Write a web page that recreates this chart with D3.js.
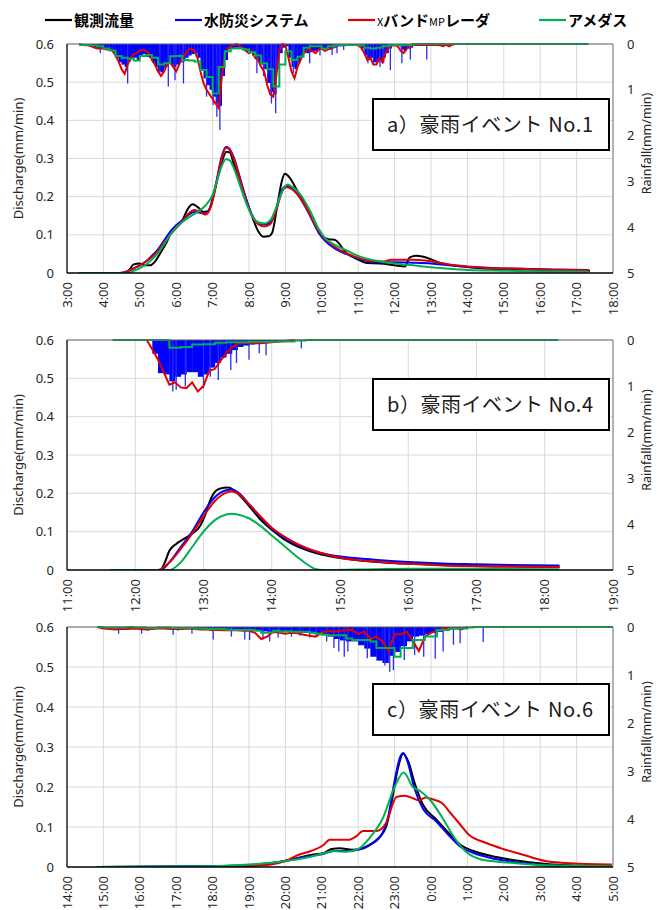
<!DOCTYPE html>
<html><head><meta charset="utf-8">
<script src="https://cdn.jsdelivr.net/npm/d3@7"></script>
<style>
body{margin:0;background:#fff}
svg text{font-family:"Noto Sans","Noto Sans CJK JP",sans-serif;fill:#262626}
</style></head><body>
<svg id="chart" width="657" height="910"></svg>
<script>
// legend
var seriesNames = ["観測流量","水防災システム","XバンドMPレーダ","アメダス"];
var seriesColors = ["#000000","#0000ff","#e00000","#00b050"];
var labels = ["a）豪雨イベント No.1","b）豪雨イベント No.4","c）豪雨イベント No.6"];
var qTicks = [0,0.1,0.2,0.3,0.4,0.5,0.6];
var rainTicks = [0,1,2,3,4,5];

// ---- event a : rain (mm/min) ----
var blueStartA = "3:20", blueStepA = 5;
var blueRainA = [0.02,0.03,0.03,0.05,0.06,0.08,0.1,0.1,0.12,0.12,0.15,0.18,0.3,0.4,0.45,0.5,0.38,0.3,0.3,0.35,
0.25,0.22,0.28,0.3,0.4,0.5,0.6,0.62,0.5,0.42,0.45,0.5,0.45,0.4,0.38,0.3,0.25,0.22,0.2,0.3,
0.55,0.75,0.9,1.0,1.15,1.3,1.35,0.7,0.35,0.12,0.1,0.08,0.08,0.1,0.1,0.15,0.2,0.25,0.3,0.4,
0.45,0.55,0.85,1.05,1.1,0.55,0.2,0.08,0.05,0.3,0.5,0.55,0.4,0.25,0.2,0.2,0.18,0.15,0.15,0.12,
0.1,0.1,0.12,0.1,0.08,0.05,0.05,0.04,0.03,0.02,0.02,0.02,0.04,0.1,0.25,0.35,0.3,0.4,0.4,0.35,
0.3,0.2,0.1,0.05,0.03,0.05,0.12,0.15,0.1,0.08,0.03,0.02,0.02,0.02,0.03,0.02,0];
var spikesA = [["3:55",0.2],["4:40",0.86],["5:33",0.64],["5:47",0.93],["5:58",0.79],["6:12",0.86],["6:50",1.15],
["7:01",1.33],["7:07",1.59],["7:12",1.88],["8:13",0.64],["8:24",0.7],["8:37",1.3],["8:44",1.51],["9:13",0.64],
["9:40",0.42],["9:57",0.25],["10:17",0.24],["10:25",0.2],["10:36",0.13],["11:16",0.42],["11:25",0.45],
["11:36",0.5],["11:42",0.42],["11:53",0.57],["12:12",0.42],["12:26",0.34],["12:53",0.34]];
var redStartA = "3:20", redStepA = 5;
var xbandRainA = [0,0.02,0.03,0.03,0.05,0.08,0.1,0.1,0.1,0.12,0.12,0.15,0.25,0.38,0.55,0.65,0.45,0.3,0.22,0.2,
0.15,0.12,0.15,0.2,0.35,0.45,0.6,0.7,0.6,0.45,0.4,0.5,0.6,0.45,0.3,0.22,0.12,0.1,0.15,0.3,
0.6,0.85,1.0,1.1,1.2,1.3,1.4,0.75,0.25,0.1,0.05,0.02,0,0.05,0.1,0.15,0.2,0.15,0.3,0.35,
0.5,0.6,0.9,1.1,1.15,0.7,0.15,0,0.02,0.3,0.6,0.75,0.5,0.35,0.2,0.15,0.12,0.15,0.2,0.12,
0.1,0.15,0.12,0.1,0.05,0.03,0.02,0.02,0.02,0.02,0.02,0.02,0.03,0.08,0.2,0.35,0.3,0.45,0.45,0.3,
0.4,0.2,0.08,0.03,0.02,0.05,0.15,0.2,0.1,0.05,0.02,0.02,0.02,0.02,0.02,0.02,0.02,0.02,0.02,0.03,
0.05,0.02,0.05,0.02,0,0,0];
var greenStartA = "3:20", greenStepA = 10, greenEndA = "17:20";
var amedasRainA = [0.02,0.02,0.03,0.05,0.1,0.14,0.26,0.3,0.32,0.36,0.26,0.24,0.3,0.45,0.42,0.27,0.26,0.35,0.36,0.38,
0.57,0.72,1.08,0.5,0.16,0.1,0.1,0.12,0.18,0.25,0.42,0.55,0.93,0.45,0.16,0.35,0.28,0.08,0.05,0.05,
0.1,0.05,0.03,0.03,0.02,0.02,0.03,0.08,0.1,0.08,0.05,0.02,0.02,0.03,0.02,0];

// ---- event a : discharge (mm/min) ----
var obsA = [["3:20",0],["4:35",0],["4:44",0.01],["4:49",0.022],["5:00",0.025],["5:08",0.02],["5:17",0.02],["5:25",0.03],
["5:33",0.05],["5:44",0.08],["5:53",0.11],["6:01",0.125],["6:09",0.135],["6:20",0.17],["6:27",0.18],["6:36",0.172],
["6:45",0.16],["6:52",0.162],["6:58",0.18],["7:07",0.24],["7:15",0.29],["7:23",0.318],["7:29",0.315],["7:34",0.29],
["7:45",0.24],["7:56",0.19],["8:07",0.14],["8:15",0.11],["8:24",0.095],["8:32",0.096],["8:38",0.105],["8:46",0.17],
["8:54",0.24],["8:59",0.26],["9:07",0.25],["9:18",0.22],["9:29",0.19],["9:40",0.16],["9:51",0.12],["10:02",0.095],
["10:13",0.088],["10:21",0.087],["10:41",0.052],["11:00",0.035],["11:14",0.026],["11:36",0.025],["12:00",0.02],
["12:17",0.017],["12:25",0.041],["12:36",0.045],["12:53",0.04],["13:15",0.026],["13:53",0.017],["14:37",0.011],
["15:43",0.009],["17:22",0.006]];
var sysA = [["3:20",0],["4:25",0],["4:40",0.005],["4:50",0.012],["5:00",0.02],["5:10",0.03],["5:20",0.045],["5:30",0.062],
["5:40",0.085],["5:50",0.108],["6:00",0.125],["6:10",0.138],["6:20",0.152],["6:30",0.16],["6:40",0.158],["6:48",0.155],
["6:55",0.168],["7:05",0.23],["7:15",0.305],["7:22",0.33],["7:27",0.327],["7:35",0.302],["7:45",0.25],["7:55",0.195],
["8:05",0.152],["8:15",0.13],["8:25",0.127],["8:35",0.132],["8:45",0.17],["8:55",0.22],["9:02",0.228],["9:12",0.22],
["9:25",0.195],["9:40",0.152],["9:55",0.105],["10:05",0.085],["10:20",0.066],["10:40",0.05],["11:00",0.038],
["11:20",0.03],["11:40",0.028],["12:00",0.028],["12:30",0.027],["13:00",0.025],["13:30",0.02],["14:00",0.016],
["14:30",0.014],["15:00",0.012],["15:30",0.011],["16:00",0.01],["16:30",0.009],["17:20",0.008]];
var xbandA = [["3:20",0],["4:25",0],["4:40",0.005],["4:50",0.012],["5:00",0.02],["5:10",0.03],["5:20",0.042],["5:30",0.058],
["5:40",0.08],["5:50",0.1],["6:00",0.118],["6:10",0.135],["6:20",0.155],["6:30",0.165],["6:40",0.16],["6:48",0.153],
["6:55",0.165],["7:05",0.225],["7:15",0.3],["7:22",0.328],["7:27",0.325],["7:35",0.3],["7:45",0.245],["7:55",0.19],
["8:05",0.15],["8:15",0.128],["8:25",0.122],["8:35",0.128],["8:45",0.165],["8:55",0.215],["9:02",0.225],["9:12",0.218],
["9:25",0.195],["9:40",0.155],["9:55",0.11],["10:05",0.09],["10:20",0.07],["10:40",0.052],["11:00",0.04],["11:20",0.032],
["11:40",0.03],["11:55",0.035],["12:30",0.035],["12:50",0.033],["13:10",0.028],["13:30",0.022],["14:00",0.017],
["14:30",0.014],["15:00",0.012],["15:30",0.011],["16:00",0.009],["16:30",0.008],["17:20",0.007]];
var amedasA = [["3:20",0],["4:40",0],["4:50",0.006],["5:00",0.013],["5:10",0.022],["5:20",0.035],["5:30",0.052],["5:40",0.075],
["5:50",0.1],["6:00",0.12],["6:10",0.133],["6:20",0.145],["6:30",0.155],["6:40",0.165],["6:50",0.18],["7:00",0.205],
["7:08",0.245],["7:15",0.28],["7:22",0.298],["7:28",0.295],["7:35",0.275],["7:45",0.23],["7:55",0.185],["8:05",0.15],
["8:15",0.133],["8:25",0.13],["8:35",0.138],["8:45",0.172],["8:55",0.215],["9:03",0.232],["9:12",0.225],["9:25",0.205],
["9:40",0.165],["9:55",0.115],["10:05",0.092],["10:20",0.075],["10:40",0.06],["11:00",0.045],["11:30",0.032],
["12:00",0.025],["12:30",0.02],["13:00",0.015],["13:30",0.011],["14:00",0.008],["15:00",0.006],["16:00",0.004],["17:20",0.003]];

// ---- event b : rain ----
var blueStartB = "12:15", blueStepB = 5;
var blueRainB = [0.3,0.72,0.75,0.9,0.8,0.75,0.7,0.7,0.8,0.75,0.6,0.5,0.38,0.3,0.22,0.15,0.12,0.1,0.08,0.07,
0.05,0.04,0.03,0.02,0.02,0.01,0];
var spikesB = [["12:33",1.12],["12:36",1.08],["12:44",1.01],["13:00",1.05],["13:06",0.8],["13:13",0.87],
["13:24",0.65],["13:29",0.5],["13:40",0.43],["13:49",0.29],["13:55",0.33],["14:26",0.18]];
var redStartB = "12:10", redStepB = 5;
var xbandRainB = [0,0.2,0.43,0.7,0.97,0.92,1.03,1.05,0.92,1.12,1.0,0.67,0.63,0.45,0.29,0.16,0.08,0.07,0.06,0.07,
0.07,0.06,0.05,0.04,0.03,0.01,0];
var greenStartB = "11:40", greenStepB = 10, greenEndB = "18:12";
var amedasRainB = [0,0,0,0,0,0.17,0.15,0.1,0.09,0.06,0.05,0.05,0.04,0.04,0.03,0.03,0.01,0];

// ---- event b : discharge ----
var obsB = [["11:38",0],["12:22",0],["12:26",0.02],["12:30",0.05],["12:36",0.068],["12:41",0.078],["12:50",0.095],
["12:57",0.115],["13:01",0.14],["13:05",0.175],["13:09",0.2],["13:14",0.212],["13:22",0.215],["13:27",0.207],
["13:34",0.188],["13:42",0.16],["13:49",0.135],["14:00",0.105],["14:11",0.08],["14:26",0.057],["14:41",0.042],
["14:56",0.033],["15:14",0.026],["15:33",0.021],["16:02",0.016],["16:28",0.013],["17:05",0.01],["18:13",0.008]];
var sysB = [["11:38",0],["12:22",0],["12:30",0.02],["12:40",0.06],["12:50",0.1],["13:00",0.15],["13:10",0.19],["13:20",0.208],
["13:25",0.21],["13:30",0.203],["13:40",0.172],["13:50",0.138],["14:00",0.108],["14:15",0.077],["14:30",0.056],
["14:45",0.043],["15:00",0.035],["15:30",0.027],["16:00",0.021],["16:30",0.017],["17:00",0.015],["17:30",0.013],["18:13",0.012]];
var xbandB = [["11:38",0],["12:20",0],["12:30",0.02],["12:40",0.055],["12:50",0.095],["13:00",0.14],["13:10",0.18],
["13:20",0.202],["13:25",0.205],["13:30",0.2],["13:40",0.172],["13:50",0.14],["14:00",0.11],["14:15",0.08],["14:30",0.058],
["14:45",0.043],["15:00",0.032],["15:30",0.022],["16:00",0.016],["16:30",0.012],["17:00",0.01],["17:30",0.009],["18:13",0.008]];
var amedasB = [["11:38",0],["12:30",0],["12:40",0.02],["12:50",0.06],["13:00",0.1],["13:10",0.13],["13:20",0.145],
["13:25",0.147],["13:30",0.145],["13:40",0.135],["13:50",0.115],["14:00",0.09],["14:10",0.065],["14:20",0.04],
["14:30",0.017],["14:38",0.003],["14:45",0],["15:15",0.001],["16:00",0.003],["17:00",0.003],["18:13",0.002]];

// ---- event c : rain ----
var blueStartC = "14:50", blueStepC = 10;
var blueRainC = [0,0.02,0.03,0.03,0.03,0.02,0.02,0.03,0.03,0.02,0.02,0.02,0.03,0.03,0.02,0.03,0.03,0.03,0.04,0.04,
0.04,0.05,0.05,0.05,0.06,0.06,0.07,0.09,0.1,0.08,0.08,0.1,0.1,0.12,0.12,0.14,0.15,0.16,0.2,0.25,
0.28,0.3,0.3,0.38,0.45,0.62,0.7,0.75,0.6,0.52,0.4,0.3,0.2,0.18,0.15,0.12,0.1,0.06,0.05,0.04,0.03,0];
var spikesC = [["15:25",0.14],["16:03",0.14],["16:14",0.08],["16:55",0.16],["17:03",0.08],["17:26",0.14],["18:01",0.26],
["18:31",0.2],["18:53",0.26],["19:01",0.27],["19:23",0.26],["19:34",0.3],["19:48",0.22],["20:10",0.2],["20:24",0.18],
["20:40",0.22],["20:51",0.2],["21:08",0.3],["21:20",0.44],["21:28",0.51],["21:37",0.62],["21:43",0.51],["22:15",0.65],
["22:44",0.8],["22:52",0.93],["22:58",0.9],["23:16",0.69],["23:33",0.58],["23:48",0.62],["0:07",0.66],["0:20",0.51],
["0:37",0.37],["0:48",0.34],["1:26",0.31]];
var redStartC = "14:50", redStepC = 10;
var xbandRainC = [0,0.03,0.04,0.05,0.04,0.04,0.03,0.04,0.05,0.04,0.03,0.03,0.04,0.04,0.04,0.03,0.04,0.05,0.05,0.06,
0.06,0.07,0.07,0.07,0.08,0.08,0.12,0.25,0.2,0.1,0.12,0.14,0.12,0.13,0.16,0.18,0.2,0.12,0.08,0.1,
0.08,0.07,0.06,0.15,0.1,0.25,0.2,0.3,0.5,0.15,0.15,0.1,0.3,0.5,0.2,0.12,0.08,0.03,0.03,0.02,0.05,0];
var greenStartC = "14:50", greenStepC = 10, greenEndC = "5:00";
var amedasRainC = [0,0.01,0.01,0.01,0.01,0,0.01,0.01,0.02,0.02,0.01,0.01,0.02,0.02,0.02,0.02,0.03,0.03,0.04,0.04,
0.04,0.05,0.06,0.06,0.06,0.06,0.08,0.12,0.12,0.08,0.1,0.09,0.1,0.1,0.1,0.12,0.14,0.16,0.17,0.17,
0.17,0.24,0.27,0.27,0.27,0.3,0.44,0.44,0.44,0.62,0.44,0.44,0.27,0.27,0.2,0.2,0.06,0.06,0.03,0.03,0.03,0.01,0];

// ---- event c : discharge ----
var obsC = [["14:49",0],["18:00",0.002],["19:09",0.005],["19:40",0.01],["20:14",0.02],["20:42",0.03],["21:03",0.035],
["21:16",0.045],["21:30",0.047],["21:50",0.043],["22:04",0.045],["22:18",0.055],["22:32",0.07],["22:46",0.1],["22:56",0.17],
["23:06",0.25],["23:14",0.283],["23:23",0.262],["23:33",0.21],["23:47",0.155],["0:08",0.12],["0:29",0.085],["0:49",0.055],
["1:10",0.04],["1:38",0.028],["2:12",0.018],["2:54",0.01],["3:35",0.005],["4:17",0.003],["4:58",0.003]];
var sysC = [["14:49",0],["18:00",0.002],["19:00",0.005],["20:00",0.015],["20:30",0.025],["21:00",0.032],["21:20",0.04],
["21:40",0.04],["22:00",0.043],["22:20",0.055],["22:40",0.085],["22:50",0.13],["23:00",0.215],["23:08",0.27],["23:14",0.285],
["23:22",0.26],["23:32",0.2],["23:47",0.145],["0:08",0.115],["0:29",0.08],["0:49",0.05],["1:10",0.035],["1:40",0.022],
["2:10",0.014],["2:40",0.008],["3:10",0.004],["3:35",0.002]];
var xbandC = [["14:49",0],["18:00",0],["19:00",0.002],["19:36",0.006],["20:00",0.015],["20:21",0.03],["20:42",0.04],
["21:03",0.055],["21:13",0.068],["21:44",0.068],["21:57",0.077],["22:08",0.09],["22:30",0.09],["22:46",0.11],["23:03",0.175],
["23:17",0.178],["23:30",0.172],["23:40",0.166],["23:51",0.174],["0:01",0.17],["0:18",0.16],["0:32",0.135],["0:46",0.11],
["1:03",0.08],["1:31",0.06],["1:59",0.045],["2:33",0.03],["3:08",0.015],["3:42",0.01],["4:58",0.006]];
var amedasC = [["14:49",0],["18:00",0.002],["19:00",0.006],["20:00",0.015],["20:40",0.025],["21:00",0.033],["21:20",0.04],
["21:40",0.038],["22:00",0.045],["22:20",0.075],["22:40",0.12],["23:00",0.2],["23:15",0.236],["23:30",0.2],["23:42",0.19],
["0:00",0.165],["0:20",0.12],["0:40",0.07],["1:00",0.035],["1:20",0.02],["1:40",0.015],["2:00",0.012],["2:30",0.008],
["3:00",0.005],["4:00",0.003],["4:58",0.002]];

var svg = d3.select("#chart");
var left = 67, right = 613;

var panels = [
  {top:44, bottom:273, h0:3, h1:18, wrap:false, boxTop:99, label:labels[0],
   blue:[blueStartA,blueStepA,blueRainA], spikes:spikesA, red:[redStartA,redStepA,xbandRainA],
   green:[greenStartA,greenStepA,amedasRainA,greenEndA], flows:[obsA,sysA,xbandA,amedasA]},
  {top:340, bottom:570, h0:11, h1:19, wrap:false, boxTop:379, label:labels[1],
   blue:[blueStartB,blueStepB,blueRainB], spikes:spikesB, red:[redStartB,redStepB,xbandRainB],
   green:[greenStartB,greenStepB,amedasRainB,greenEndB], flows:[obsB,sysB,xbandB,amedasB]},
  {top:627, bottom:867, h0:14, h1:29, wrap:true, boxTop:684, label:labels[2],
   blue:[blueStartC,blueStepC,blueRainC], spikes:spikesC, red:[redStartC,redStepC,xbandRainC],
   green:[greenStartC,greenStepC,amedasRainC,greenEndC], flows:[obsC,sysC,xbandC,amedasC]}
];

var toHours = function(s, wrap) {
  var p = s.split(":");
  var h = +p[0] + (+p[1]) / 60;
  if (wrap && h < 12) h += 24;
  return h;
}

panels.forEach(function(p, idx) {
  var x = d3.scaleLinear().domain([p.h0, p.h1]).range([left, right]);
  var yQ = d3.scaleLinear().domain([0, 0.6]).range([p.bottom, p.top]);
  var yR = d3.scaleLinear().domain([0, 5]).range([p.top, p.bottom]);
  var g = svg.append("g");

  // grid
  g.selectAll(".vg").data(d3.range(p.h0 + 1, p.h1)).enter().append("line")
    .attr("x1", x).attr("x2", x).attr("y1", p.top).attr("y2", p.bottom)
    .attr("stroke", "#d9d9d9").attr("stroke-width", 1);
  g.selectAll(".hg").data(qTicks.slice(1, -1)).enter().append("line")
    .attr("x1", left).attr("x2", right).attr("y1", yQ).attr("y2", yQ)
    .attr("stroke", "#d9d9d9").attr("stroke-width", 1);

  var clipId = "clip" + idx;
  svg.append("clipPath").attr("id", clipId).append("rect")
    .attr("x", left).attr("y", p.top - 2).attr("width", right - left).attr("height", p.bottom - p.top + 2);
  var plot = g.append("g").attr("clip-path", "url(#" + clipId + ")");

  // radar rain bars (水防災システム)
  var bStart = toHours(p.blue[0], p.wrap), bStep = p.blue[1] / 60;
  plot.selectAll(".bar").data(p.blue[2]).enter().append("rect")
    .attr("x", function(d, i) { return x(bStart + i * bStep); })
    .attr("width", function(d, i) { return x(bStart + (i + 1) * bStep) - x(bStart + i * bStep) + 0.3; })
    .attr("y", p.top)
    .attr("height", function(d) { return yR(d) - p.top; })
    .attr("fill", "#0000ff");
  plot.selectAll(".spike").data(p.spikes).enter().append("line")
    .attr("x1", function(d) { return x(toHours(d[0], p.wrap)); })
    .attr("x2", function(d) { return x(toHours(d[0], p.wrap)); })
    .attr("y1", p.top).attr("y2", function(d) { return yR(d[1]); })
    .attr("stroke", "#2a2aff").attr("stroke-width", 1.3);

  // X-band rain line
  var rStart = toHours(p.red[0], p.wrap), rStep = p.red[1] / 60;
  plot.append("path").datum(p.red[2])
    .attr("fill", "none").attr("stroke", seriesColors[2]).attr("stroke-width", 2)
    .attr("d", d3.line()
      .x(function(d, i) { return x(rStart + i * rStep); })
      .y(function(d) { return yR(d); }));

  // AMeDAS rain step line
  var gStart = toHours(p.green[0], p.wrap), gStep = p.green[1] / 60;
  var gVals = p.green[2].map(function(d, i) { return [gStart + i * gStep, d]; });
  gVals.push([toHours(p.green[3], p.wrap), p.green[2][p.green[2].length - 1]]);
  plot.append("path").datum(gVals)
    .attr("fill", "none").attr("stroke", seriesColors[3]).attr("stroke-width", 2)
    .attr("d", d3.line().curve(d3.curveStepAfter)
      .x(function(d) { return x(d[0]); })
      .y(function(d) { return yR(d[1]); }));

  // discharge lines
  p.flows.forEach(function(f, k) {
    plot.append("path").datum(f)
      .attr("fill", "none").attr("stroke", seriesColors[k]).attr("stroke-width", 2)
      .attr("stroke-linejoin", "round")
      .attr("d", d3.line().curve(d3.curveMonotoneX)
        .x(function(d) { return x(toHours(d[0], p.wrap)); })
        .y(function(d) { return yQ(d[1]); }));
  });

  // frame
  g.append("line").attr("x1", left).attr("x2", right).attr("y1", p.top).attr("y2", p.top)
    .attr("stroke", "#595959").attr("stroke-width", 1.2);
  g.append("line").attr("x1", right).attr("x2", right).attr("y1", p.top).attr("y2", p.bottom)
    .attr("stroke", "#7f7f7f").attr("stroke-width", 1.2);
  g.append("line").attr("x1", left).attr("x2", left).attr("y1", p.top).attr("y2", p.bottom)
    .attr("stroke", "#000").attr("stroke-width", 1.3);
  g.append("line").attr("x1", left).attr("x2", right).attr("y1", p.bottom).attr("y2", p.bottom)
    .attr("stroke", "#000").attr("stroke-width", 1.3);

  // left ticks
  g.selectAll(".ql").data(qTicks).enter().append("text")
    .attr("x", left - 13).attr("y", function(d) { return yQ(d) + 4.5; })
    .attr("text-anchor", "end").attr("font-size", 13)
    .text(function(d) { return d === 0 ? "0" : d.toFixed(1); });
  // right ticks
  g.selectAll(".rl").data(rainTicks).enter().append("text")
    .attr("x", right + 14).attr("y", function(d) { return yR(d) + 4.5; })
    .attr("font-size", 13).text(function(d) { return d; });
  // time ticks
  g.selectAll(".tl").data(d3.range(p.h0, p.h1 + 1)).enter().append("text")
    .attr("transform", function(d) { return "translate(" + (x(d) + 4.5) + "," + (p.bottom + 9) + ") rotate(-90)"; })
    .attr("text-anchor", "end").attr("font-size", 13)
    .text(function(d) { return (d % 24) + ":00"; });

  // axis titles
  var mid = (p.top + p.bottom) / 2;
  g.append("text").attr("transform", "translate(23," + mid + ") rotate(-90)")
    .attr("text-anchor", "middle").attr("font-size", 13).text("Discharge(mm/min)");
  g.append("text").attr("transform", "translate(651," + (mid - 15) + ") rotate(-90)")
    .attr("text-anchor", "middle").attr("font-size", 12.5).text("Rainfall(mm/min)");

  // event label box
  g.append("rect").attr("x", 373).attr("y", p.boxTop).attr("width", 236).attr("height", 51)
    .attr("fill", "#fff").attr("stroke", "#000").attr("stroke-width", 2);
  g.append("text").attr("x", 387).attr("y", p.boxTop + 33)
    .attr("font-size", 20).attr("textLength", 206).attr("lengthAdjust", "spacing")
    .style("font-family", "'Noto Sans CJK JP'").style("fill", "#1a1a1a")
    .text(p.label);
});

// legend
var legX = [45, 175, 348, 539];
var leg = svg.append("g");
seriesNames.forEach(function(n, i) {
  leg.append("line").attr("x1", legX[i]).attr("x2", legX[i] + 27).attr("y1", 20).attr("y2", 20)
    .attr("stroke", seriesColors[i]).attr("stroke-width", 2.2);
  var t = leg.append("text").attr("x", legX[i] + 29).attr("y", 26)
    .attr("font-size", 15).attr("font-weight", "bold")
    .style("font-family", "'Noto Sans CJK JP'").style("fill", "#000");
  if (i === 2) {
    t.append("tspan").attr("font-size", 11).attr("font-weight", "normal").text("X");
    t.append("tspan").text("バンド");
    t.append("tspan").attr("font-size", 11).attr("font-weight", "normal").text("MP");
    t.append("tspan").text("レーダ");
  } else {
    t.text(n);
  }
});
</script>
</body></html>
